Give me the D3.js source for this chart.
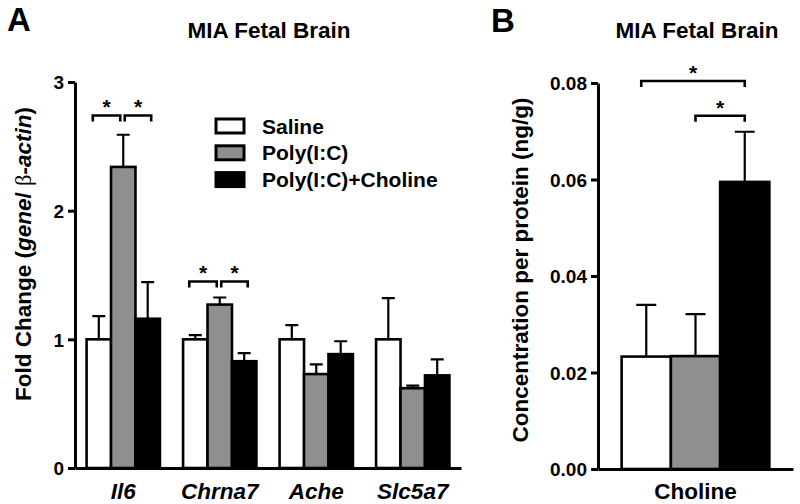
<!DOCTYPE html>
<html>
<head>
<meta charset="utf-8">
<script src="https://cdn.jsdelivr.net/npm/d3@7"></script>
<style>
  html, body { margin: 0; padding: 0; background: #fff; }
  svg { display: block; }
  text { font-family: "Liberation Sans", Arial, Helvetica, sans-serif; font-weight: bold; fill: #000; }
</style>
</head>
<body>
<svg id="chart" width="800" height="504"></svg>
<script>
// ---------- data ----------
const genes = ["Il6", "Chrna7", "Ache", "Slc5a7"];
const groups = ["Saline", "Poly(I:C)", "Poly(I:C)+Choline"];
const groupColors = ["#ffffff", "#8f8f8f", "#000000"];

const salineMean = [1.00, 1.00, 1.00, 1.00];
const salineErr  = [0.18, 0.033, 0.11, 0.32];
const polyMean   = [2.34, 1.27, 0.73, 0.62];
const polyErr    = [0.25, 0.055, 0.075, 0.02];
const cholMean   = [1.16, 0.83, 0.885, 0.72];
const cholErr    = [0.285, 0.063, 0.10, 0.125];

const yTicksA = [0, 1, 2, 3];

const cholineCategory = ["Choline"];
const cholineMeans = [0.0233, 0.0234, 0.0595];
const cholineErrs  = [0.0107, 0.0087, 0.0104];
const yTicksB = [0, 0.02, 0.04, 0.06, 0.08];

// significance brackets (group indices and height in data units)
const bracketsA = [
  { gene: "Il6",    from: 0, to: 1, y: 2.74 },
  { gene: "Il6",    from: 1, to: 2, y: 2.74 },
  { gene: "Chrna7", from: 0, to: 1, y: 1.45 },
  { gene: "Chrna7", from: 1, to: 2, y: 1.45 }
];
const bracketsB = [
  { from: 0, to: 2, y: 0.0804 },
  { from: 1, to: 2, y: 0.0732 }
];

// ---------- drawing ----------
const svg = d3.select("#chart");
svg.append("rect").attr("width", 800).attr("height", 504).attr("fill", "#fff");

const AXW = 3;
const BARW = 2.6;

function drawYAxis(g, y, ticks, fmt, x0) {
  const ax = g.append("g").attr("transform", `translate(${x0},0)`)
    .call(d3.axisLeft(y).tickValues(ticks).tickFormat(fmt).tickSize(7).tickSizeOuter(0).tickPadding(4));
  ax.select(".domain").attr("stroke", "#000").attr("stroke-width", AXW);
  ax.selectAll(".tick line").attr("stroke", "#000").attr("stroke-width", AXW);
  ax.selectAll(".tick text").style("font-size", "19px").style("font-family", "Liberation Sans, Arial, sans-serif")
    .style("font-weight", "bold").attr("fill", "#000").attr("dy", "0.36em");
  return ax;
}

function drawBracket(g, x1, x2, yTop, drop) {
  g.append("path")
    .attr("d", `M${x1},${yTop + drop}V${yTop}H${x2}V${yTop + drop}`)
    .attr("fill", "none").attr("stroke", "#000").attr("stroke-width", 2.6);
  g.append("text").attr("x", (x1 + x2) / 2).attr("y", yTop - 1)
    .attr("text-anchor", "middle").style("font-size", "21px").text("*");
}

// ===== Panel A =====
const gA = svg.append("g");
const yA = d3.scaleLinear().domain([0, 3]).range([468, 82]);
const xA = d3.scaleBand().domain(genes).range([75, 461]).paddingInner(0.24).paddingOuter(0.12);
const xAin = d3.scaleBand().domain(d3.range(groups.length)).range([0, xA.bandwidth()]);

const meansA = [salineMean, polyMean, cholMean];
const errsA = [salineErr, polyErr, cholErr];
const dataA = [];
genes.forEach((gname, gi) => {
  groups.forEach((s, si) => {
    dataA.push({ gene: gname, si, mean: meansA[si][gi], err: errsA[si][gi] });
  });
});

const capA = 13;
// error bars (behind bars)
gA.selectAll("path.errA").data(dataA).enter().append("path")
  .attr("class", "errA")
  .attr("d", d => {
    const cx = xA(d.gene) + xAin(d.si) + xAin.bandwidth() / 2;
    const y0 = yA(d.mean), y1 = yA(d.mean + d.err);
    return `M${cx},${y0}V${y1}M${cx - capA / 2},${y1}H${cx + capA / 2}`;
  })
  .attr("fill", "none").attr("stroke", "#000").attr("stroke-width", 2.2);

gA.selectAll("rect.barA").data(dataA).enter().append("rect")
  .attr("class", "barA")
  .attr("x", d => xA(d.gene) + xAin(d.si))
  .attr("y", d => yA(d.mean))
  .attr("width", xAin.bandwidth())
  .attr("height", d => yA(0) - yA(d.mean))
  .attr("fill", d => groupColors[d.si])
  .attr("stroke", "#000").attr("stroke-width", BARW);

drawYAxis(gA, yA, yTicksA, d3.format("d"), 75);
// x axis
const axA = gA.append("g").attr("transform", `translate(0,${yA(0)})`)
  .call(d3.axisBottom(xA).tickSize(0).tickSizeOuter(0).tickPadding(15));
axA.select(".domain").attr("stroke", "#000").attr("stroke-width", AXW);
axA.selectAll(".tick text").style("font-size", "22.5px").style("font-style", "italic")
  .style("font-weight", "bold").style("font-family", "Liberation Sans, Arial, sans-serif").attr("fill", "#000");

// brackets A
bracketsA.forEach(b => {
  const c = i => xA(b.gene) + xAin(i) + xAin.bandwidth() / 2;
  const left = b.from === 0;
  const x1 = left ? c(b.from) - 6 : c(b.from) + 1.5;
  const x2 = left ? c(b.to) - 3 : c(b.to) + 3.5;
  drawBracket(gA, x1, x2, yA(b.y), 6);
});

// title, letter, y label
gA.append("text").attr("x", 269).attr("y", 38).attr("text-anchor", "middle")
  .style("font-size", "22.5px").text("MIA Fetal Brain");
gA.append("text").attr("x", 7).attr("y", 31).style("font-size", "33px").text("A");
const ylabA = gA.append("text").attr("transform", "translate(31,254) rotate(-90)")
  .attr("text-anchor", "middle").style("font-size", "22.5px");
ylabA.append("tspan").text("Fold Change (");
ylabA.append("tspan").style("font-style", "italic").text("gene");
ylabA.append("tspan").text("/ ");
ylabA.append("tspan").style("font-family", "Liberation Serif, Times New Roman, serif").style("font-weight", "normal").text("β");
ylabA.append("tspan").style("font-style", "italic").text("-actin");
ylabA.append("tspan").text(")");

// legend
const legA = gA.append("g");
groups.forEach((s, i) => {
  const cy = 126 + i * 26.8;
  legA.append("rect").attr("x", 216).attr("y", cy - 7).attr("width", 28).attr("height", 14)
    .attr("fill", groupColors[i]).attr("stroke", "#000").attr("stroke-width", 3);
  legA.append("text").attr("x", 262).attr("y", cy + 7.5).style("font-size", "21px").text(s);
});

// ===== Panel B =====
const gB = svg.append("g");
const yB = d3.scaleLinear().domain([0, 0.08]).range([469, 83]);
const xB = d3.scaleBand().domain(cholineCategory).range([598, 793]).paddingOuter(0.16).paddingInner(0);
const xBin = d3.scaleBand().domain(d3.range(groups.length)).range([0, xB.bandwidth()]);
const dataB = cholineMeans.map((m, i) => ({ cat: cholineCategory[0], si: i, mean: m, err: cholineErrs[i] }));

const capB = 20;
gB.selectAll("path.errB").data(dataB).enter().append("path")
  .attr("d", d => {
    const cx = xB(d.cat) + xBin(d.si) + xBin.bandwidth() / 2;
    const y0 = yB(d.mean), y1 = yB(d.mean + d.err);
    return `M${cx},${y0}V${y1}M${cx - capB / 2},${y1}H${cx + capB / 2}`;
  })
  .attr("fill", "none").attr("stroke", "#000").attr("stroke-width", 2.2);

gB.selectAll("rect.barB").data(dataB).enter().append("rect")
  .attr("x", d => xB(d.cat) + xBin(d.si))
  .attr("y", d => yB(d.mean))
  .attr("width", xBin.bandwidth())
  .attr("height", d => yB(0) - yB(d.mean))
  .attr("fill", d => groupColors[d.si])
  .attr("stroke", "#000").attr("stroke-width", BARW);

drawYAxis(gB, yB, yTicksB, d3.format(".2f"), 598);
const axB = gB.append("g").attr("transform", `translate(0,${yB(0)})`)
  .call(d3.axisBottom(xB).tickSize(0).tickSizeOuter(0).tickPadding(14));
axB.select(".domain").attr("stroke", "#000").attr("stroke-width", AXW);
axB.selectAll(".tick text").style("font-size", "22.5px").style("font-weight", "bold")
  .style("font-family", "Liberation Sans, Arial, sans-serif").attr("fill", "#000");

bracketsB.forEach(b => {
  const c = i => xB(cholineCategory[0]) + xBin(i) + xBin.bandwidth() / 2;
  const x1 = b.from === 0 ? c(b.from) - 5 : c(b.from);
  const x2 = c(b.to);
  drawBracket(gB, x1, x2, yB(b.y), 6);
});

gB.append("text").attr("x", 697).attr("y", 38).attr("text-anchor", "middle")
  .style("font-size", "22.5px").text("MIA Fetal Brain");
gB.append("text").attr("x", 491).attr("y", 32).style("font-size", "33px").text("B");
gB.append("text").attr("transform", "translate(528,270) rotate(-90)")
  .attr("text-anchor", "middle").style("font-size", "22.5px").text("Concentration per protein (ng/g)");
</script>
</body>
</html>
